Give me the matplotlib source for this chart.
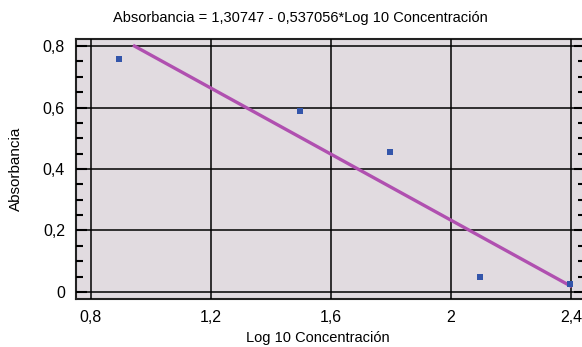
import matplotlib.pyplot as plt
import numpy as np

log_conc = [0.892, 1.495, 1.796, 2.097, 2.398]
absorbancia = [0.758, 0.590, 0.455, 0.048, 0.025]
intercept = 1.30747
slope = -0.537056

x_ticks = [0.8, 1.2, 1.6, 2.0, 2.4]
x_tick_labels = ["0,8", "1,2", "1,6", "2", "2,4"]
y_ticks = [0, 0.2, 0.4, 0.6, 0.8]
y_tick_labels = ["0", "0,2", "0,4", "0,6", "0,8"]

plt.rcParams['font.family'] = ['Liberation Sans', 'DejaVu Sans']

fig = plt.figure(figsize=(5.82, 3.47), dpi=100)
W, H = 582, 347
left, right, top, bottom = 76, 585, 39, 299
ax = fig.add_axes([left / W, 1 - bottom / H, (right - left) / W, (bottom - top) / H])
ax.set_facecolor("#e1dbe0")

# fitted line, drawn from where it enters the top gridline to the last point
x_start = (intercept - 0.8) / -slope
xs = np.linspace(x_start, max(log_conc), 50)
ax.plot(xs, intercept + slope * xs, color="#b050b0", linewidth=2.4, zorder=3)
ax.scatter(log_conc, absorbancia, marker="s", s=24, color="#3355aa", zorder=4, linewidths=0)

ax.set_xlim(0.75, 0.8 + (right - 91) / 300)
ax.set_ylim(-0.023, 0.823)
ax.set_xticks(x_ticks)
ax.set_xticklabels(x_tick_labels, fontsize=11.5)
ax.set_yticks(y_ticks)
ax.set_yticklabels(y_tick_labels, fontsize=11.5)
ax.set_yticks(np.arange(0, 0.81, 0.05), minor=True)
ax.tick_params(axis="y", which="both", direction="in", left=True, right=True, width=1.5, color="black")
ax.tick_params(axis="y", which="major", length=8, pad=8)
ax.tick_params(axis="y", which="minor", length=5)
ax.tick_params(axis="x", which="both", length=0, pad=8)
ax.grid(True, color="black", linewidth=1.1)
ax.set_axisbelow(False)
for s in ax.spines.values():
    s.set_linewidth(1.5)
    s.set_color("#222222")

fig.text(300 / W, 1 - 18 / H, "Absorbancia = 1,30747 - 0,537056*Log 10 Concentración",
         fontsize=10.5, ha="center", va="center")
ax.set_xlabel("Log 10 Concentración", fontsize=10.5)
ax.xaxis.set_label_coords((318 - left) / (right - left), -(331 - bottom) / (bottom - top))
ax.set_ylabel("Absorbancia", fontsize=11, labelpad=14)

fig.savefig("out.png", dpi=100)
